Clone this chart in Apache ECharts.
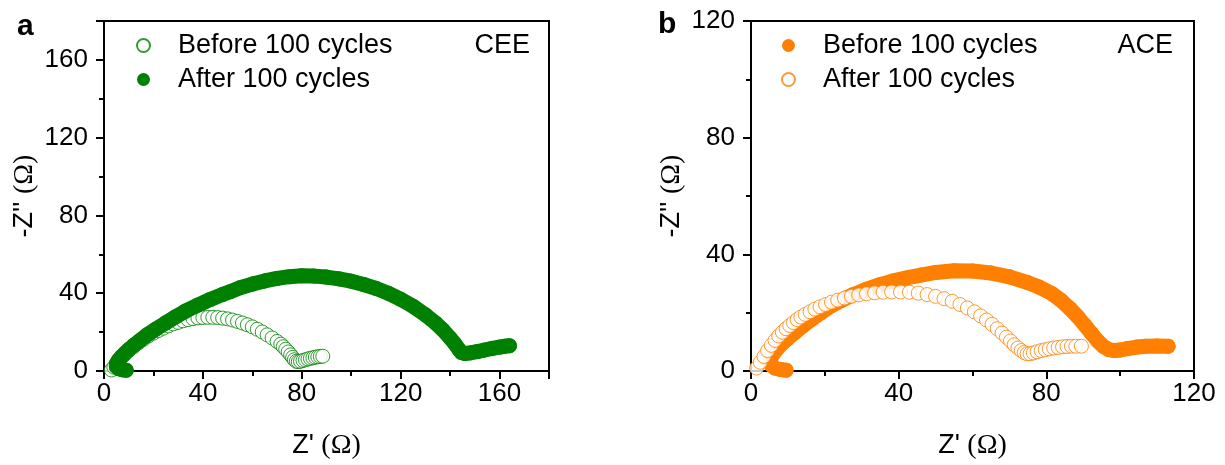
<!DOCTYPE html>
<html>
<head>
<meta charset="utf-8">
<script src="https://cdn.jsdelivr.net/npm/echarts@6/dist/echarts.min.js"></script>
<style>
  html, body { margin: 0; padding: 0; background: #fff; }
  #chart { width: 1225px; height: 465px; }
</style>
</head>
<body>
<div id="chart"></div>
<script>
  // Nyquist data, [Z', -Z''] in ohm
  const ceeBefore = [
    [3,0.5],[4,2],[5,4],[6.5,6],[8,8],[10,10.5],[12,12.5],[14,14.5],[16,16.3],[18,18],
    [20,19.5],[22,20.8],[24,22],[26,23.2],[28,24.2],[30,25],[32,25.8],[34,26.4],[36,26.9],[38,27.3],
    [40,27.5],[42,27.6],[44,27.6],[46,27.5],[48,27.2],[50,26.8],[52,26.2],[54,25.5],[56,24.7],[58,23.8],
    [60,22.7],[62,21.5],[64,20.1],[66,18.6],[68,17],[70,15.2],[71.5,13.8],[72.5,12.5],[73.5,11.2],[74.5,9.8],
    [75.5,8.3],[76.3,7],[77,5.8],[77.8,5],[78.6,4.8],[79.5,5],[80.5,5.4],[81.5,5.8],[82.5,6.2],[83.5,6.5],
    [84.5,6.8],[85.5,7.1],[86.5,7.3],[87.5,7.5],[88.5,7.6]
  ];
  const ceeAfter = [
    [9,0.4],[7.5,0.6],[6,1.2],[5,2.2],[5,3.5],[5.8,5.5],[7,7.3],[8.5,9.2],[10,11],[12,13.2],
    [14.6,15.8],[17.5,18.6],[21,21.6],[25,24.8],[29,27.9],[33,30.8],[38,33.9],[43,36.8],[48,39.4],[51,40.8],
    [55,42.8],[60,44.7],[65,46.3],[70,47.6],[75,48.5],[80,49],[85,48.8],[90,48.3],[95,47.4],[100,46.2],
    [105,44.5],[110,42.5],[115,40],[120,36.9],[125,33.3],[130,28.9],[134,24.8],[137,21.2],[140,17],[142,13.9],
    [143.5,11.2],[144.5,9.6],[146,9],[148,9.3],[151,10],[154,10.8],[157,11.6],[160,12.3],[162,12.7],[164,13]
  ];
  const aceBefore = [
    [9.5,0.3],[8,0.5],[6.5,1],[5.5,2],[5,3.5],[5.8,5.5],[7,7.5],[8.5,9.5],[10,11.2],[12,13.3],
    [14,15.4],[16.5,17.8],[19,20],[21.5,22.2],[24.5,24.2],[27.7,26.2],[31,27.9],[34.9,29.6],[38.5,30.9],[42.2,31.9],
    [46,32.9],[50,33.8],[55,34.4],[60,34.3],[65,33.6],[70,32.3],[75,30.3],[78,28.8],[81.4,26.6],[84,24.2],
    [86.5,21.3],[88.5,18.6],[90.5,15.6],[92.3,12.8],[94,10.2],[95.5,8.4],[97,7.3],[98.5,7],[100,7.2],[102,7.7],
    [104.5,8.2],[107,8.5],[110,8.6],[113,8.5]
  ];
  const aceAfter = [
    [1.5,1],[2.5,3],[3.5,5],[4.5,7],[5.5,8.8],[6.5,10.5],[7.5,12],[8.5,13.3],[9.5,14.5],[10.5,15.6],
    [11.5,16.6],[12.5,17.6],[13.5,18.5],[14.7,19.4],[16,20.3],[17.3,21.2],[18.7,22],[20.2,22.8],[21.8,23.6],[23.5,24.3],
    [25.3,25],[27.2,25.6],[29.2,26.1],[31.3,26.5],[33.5,26.8],[35.8,27],[38.1,27.1],[40.5,27.1],[42.9,27],[45.3,26.7],
    [47.7,26.2],[50,25.6],[52.3,24.8],[54.5,23.9],[56.6,22.8],[58.6,21.6],[60.5,20.3],[62.2,18.9],[63.8,17.5],[65.3,16],
    [66.7,14.5],[68,13],[69.2,11.6],[70.3,10.3],[71.3,9],[72.3,7.9],[73.2,7],[74,6.3],[74.8,5.9],[75.6,5.9],
    [76.5,6.2],[77.5,6.6],[78.6,7],[79.7,7.3],[80.8,7.6],[82,7.9],[83.2,8.1],[84.4,8.3],[85.6,8.4],[86.8,8.5],
    [88,8.5],[89.5,8.5]
  ];
  const legendNames = {
    ceeBefore: 'Before 100 cycles', ceeAfter: 'After 100 cycles',
    aceBefore: 'Before 100 cycles', aceAfter: 'After 100 cycles'
  };
  const ceeMax = 180, aceMax = 120, tickStep = 40;

  const GREEN = '#008000', ORANGE = '#ff8000';
  const FONT = 'Liberation Sans';

  function axisBase(max, margin){
    return {
      type: 'value', min: 0, max: max, interval: tickStep,
      axisLine: { show: true, lineStyle: { color: '#000', width: 2 } },
      axisTick: { show: true, length: 8, lineStyle: { color: '#000', width: 2 } },
      minorTick: { show: true, splitNumber: 2, length: 5, lineStyle: { color: '#000', width: 2 } },
      splitLine: { show: false },
      axisLabel: { fontFamily: FONT, fontSize: 26, color: '#000', margin: margin,
                   showMaxLabel: max % tickStep === 0 },
      nameTextStyle: {
        rich: {
          s: { fontFamily: FONT, fontSize: 27, color: '#000' },
          g: { fontFamily: 'Liberation Serif', fontSize: 28, color: '#000' }
        }
      }
    };
  }
  function xAx(idx, max){
    return Object.assign(axisBase(max, 10), {
      gridIndex: idx, name: "{s|Z' }{g|(Ω)}", nameLocation: 'middle', nameGap: 61
    });
  }
  function yAx(idx, max){
    return Object.assign(axisBase(max, 16), {
      gridIndex: idx, name: "{s|-Z'' }{g|(Ω)}", nameLocation: 'middle', nameGap: 65, nameRotate: 90
    });
  }

  function openSeries(name, data, color, idx, z){
    return {
      name: name, type: 'scatter', xAxisIndex: idx, yAxisIndex: idx, z: z,
      symbol: 'circle', symbolSize: 14, data: data,
      itemStyle: { color: '#fff', borderColor: color, borderWidth: 1 },
      emphasis: { disabled: true }
    };
  }
  function filledSeries(name, data, color, idx, z){
    return {
      name: name, type: 'line', xAxisIndex: idx, yAxisIndex: idx, z: z,
      symbol: 'circle', symbolSize: 15, showAllSymbol: true, data: data,
      itemStyle: { color: color },
      lineStyle: { color: color, width: 15, cap: 'round', join: 'round' },
      emphasis: { disabled: true }
    };
  }
  function legend(names, left){
    return {
      data: names, left: left, top: 27, orient: 'vertical', icon: 'circle',
      itemWidth: 13, itemHeight: 13, itemGap: 7, selectedMode: false,
      formatter: n => legendNames[n],
      textStyle: { fontFamily: FONT, fontSize: 27, color: '#000', lineHeight: 27, padding: [0, 0, 0, 23] }
    };
  }

  const myChart = echarts.init(document.getElementById('chart'));
  myChart.setOption({
    animation: false,
    backgroundColor: '#fff',
    grid: [
      { left: 104, top: 21, width: 445, height: 361, show: true, borderColor: '#000', borderWidth: 2 },
      { left: 751, top: 21, width: 443, height: 361, show: true, borderColor: '#000', borderWidth: 2 }
    ],
    xAxis: [xAx(0, ceeMax), xAx(1, aceMax)],
    yAxis: [yAx(0, ceeMax), yAx(1, aceMax)],
    legend: [legend(['ceeBefore', 'ceeAfter'], 131), legend(['aceBefore', 'aceAfter'], 776)],
    series: [
      // panel a: "after" drawn over "before"; panel b: open rings on top
      openSeries('ceeBefore', ceeBefore, GREEN, 0, 2),
      filledSeries('ceeAfter', ceeAfter, GREEN, 0, 3),
      filledSeries('aceBefore', aceBefore, ORANGE, 1, 2),
      openSeries('aceAfter', aceAfter, ORANGE, 1, 3)
    ],
    graphic: [
      { type: 'text', left: 17, top: 12, style: { text: 'a', font: 'bold 30px "Liberation Sans"', fill: '#000' } },
      { type: 'text', left: 658, top: 10, style: { text: 'b', font: 'bold 30px "Liberation Sans"', fill: '#000' } },
      { type: 'text', right: 695, top: 32, style: { text: 'CEE', font: '27px "Liberation Sans"', fill: '#000' } },
      { type: 'text', right: 52, top: 32, style: { text: 'ACE', font: '27px "Liberation Sans"', fill: '#000' } }
    ]
  });
</script>
</body>
</html>
